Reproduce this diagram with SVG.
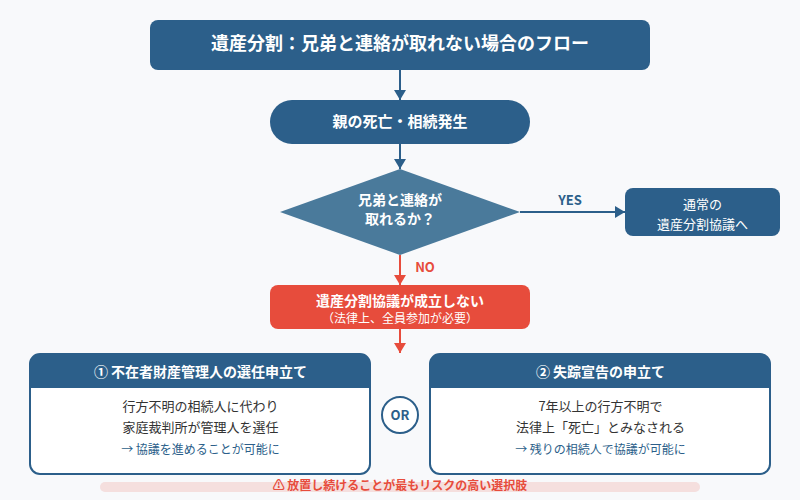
<svg xmlns="http://www.w3.org/2000/svg" width="800" height="500" viewBox="0 0 800 500">
<defs>
<marker id="ab" markerUnits="userSpaceOnUse" markerWidth="12" markerHeight="12" refX="10" refY="6" orient="auto"><path d="M0,0 L10,6 L0,12 Z" fill="#2c5f8a"/></marker>
<marker id="ar" markerUnits="userSpaceOnUse" markerWidth="12" markerHeight="12" refX="10" refY="6" orient="auto"><path d="M0,0 L10,6 L0,12 Z" fill="#e74c3c"/></marker>
</defs>
<style>
text{font-family:"Noto Sans CJK JP","Noto Sans",sans-serif;text-anchor:middle}
.w{fill:#fff}.b{font-weight:700}
.blue{fill:#2c5f8a}
.red{fill:#e74c3c}
.lb{stroke:#2c5f8a;stroke-width:2;fill:none;marker-end:url(#ab)}
.lr{stroke:#e74c3c;stroke-width:2;fill:none;marker-end:url(#ar)}
.body{fill:#333;font-size:13px}
.note{fill:#2c5f8a;font-size:12px}
</style>
<rect width="800" height="500" fill="#f8f9fb"/>
<g id="connectors">
<line class="lb" x1="400" y1="70" x2="400" y2="100"/>
<line class="lb" x1="400" y1="144" x2="400" y2="169"/>
<line class="lb" x1="520" y1="212" x2="625" y2="212"/>
<line class="lr" x1="400" y1="255" x2="400" y2="285"/>
<line class="lr" x1="400" y1="329" x2="400" y2="353"/>
<text class="blue b" x="570" y="205" font-size="13">YES</text>
<text class="red b" x="425" y="272" font-size="13">NO</text>
</g>
<g id="title"><rect x="150" y="20" width="500" height="50" rx="8" fill="#2c5f8a"/><text class="w b" x="400" y="50" font-size="18">遺産分割：兄弟と連絡が取れない場合のフロー</text></g>
<g id="start"><rect x="270" y="100" width="260" height="44" rx="22" fill="#2c5f8a"/><text class="w b" x="400" y="127" font-size="15">親の死亡・相続発生</text></g>
<g id="decision"><polygon points="400,169 520,212 400,255 280,212" fill="#4a7a9b"/><text class="w b" x="400" y="205" font-size="14">兄弟と連絡が</text><text class="w b" x="400" y="224" font-size="14">取れるか？</text></g>
<g id="normal"><rect x="625" y="188" width="155" height="48" rx="8" fill="#2c5f8a"/><text class="w" x="702.500" y="209" font-size="13">通常の</text><text class="w" x="702.500" y="229" font-size="13">遺産分割協議へ</text></g>
<g id="fail"><rect x="270" y="285" width="260" height="44" rx="8" fill="#e74c3c"/><text class="w b" x="400" y="306" font-size="14">遺産分割協議が成立しない</text><text class="w" x="400" y="323" font-size="12">（法律上、全員参加が必要）</text></g>
<g id="option1"><rect x="30" y="354" width="340" height="120" rx="10" fill="#fff" stroke="#2c5f8a" stroke-width="2"/><path d="M30,388 V364 a10,10 0 0 1 10,-10 H360 a10,10 0 0 1 10,10 V388 Z" fill="#2c5f8a"/><text class="w b" x="200.500" y="377" font-size="14">① 不在者財産管理人の選任申立て</text><text class="body" x="200.500" y="410.500">行方不明の相続人に代わり</text><text class="body" x="200.500" y="432">家庭裁判所が管理人を選任</text><text class="note" x="200.500" y="454">→ 協議を進めることが可能に</text></g>
<g id="or"><circle cx="400" cy="415" r="18" fill="#fff" stroke="#2c5f8a" stroke-width="2"/><text class="blue b" x="400" y="420" font-size="13">OR</text></g>
<g id="option2"><rect x="430" y="354" width="340" height="120" rx="10" fill="#fff" stroke="#2c5f8a" stroke-width="2"/><path d="M430,388 V364 a10,10 0 0 1 10,-10 H760 a10,10 0 0 1 10,10 V388 Z" fill="#2c5f8a"/><text class="w b" x="600.500" y="377" font-size="14">② 失踪宣告の申立て</text><text class="body" x="600.500" y="410.500">7年以上の行方不明で</text><text class="body" x="600.500" y="432">法律上「死亡」とみなされる</text><text class="note" x="600.500" y="454">→ 残りの相続人で協議が可能に</text></g>
<g id="warning"><rect x="100" y="482" width="600" height="10" rx="5" fill="#e74c3c" opacity="0.15"/><text class="red b" x="400" y="490" font-size="12">⚠ 放置し続けることが最もリスクの高い選択肢</text></g>
</svg>
